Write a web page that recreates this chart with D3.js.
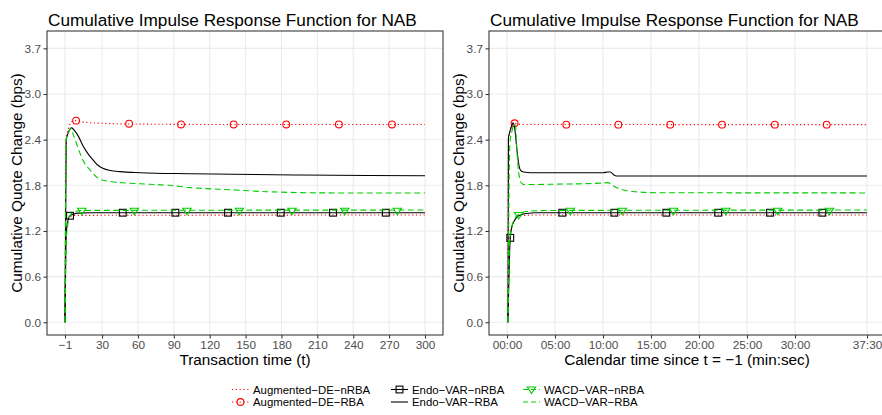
<!DOCTYPE html>
<html lang="en">
<head>
<meta charset="UTF-8">
<title>Cumulative Impulse Response Function for NAB</title>
<script src="https://d3js.org/d3.v7.min.js"></script>
<style>
    body { margin: 0; background: #ffffff; }
    svg { display: block; font-family: 'Liberation Sans', Arial, sans-serif; }
    .grid line { stroke: #ebebeb; stroke-width: 1.07; }
    .tick-label { fill: #4d4d4d; font-size: 11.8px; }
</style>
</head>
<body>
<svg id="chart" width="882" height="415"></svg>
<script>
// ---- data ----
const seriesNames = ["Augmented-DE-nRBA", "Augmented-DE-RBA", "Endo-VAR-nRBA",
                     "Endo-VAR-RBA", "WACD-VAR-nRBA", "WACD-VAR-RBA"];

// left panel: transaction time t
const leftTicks = [-1, 30, 60, 90, 120, 150, 180, 210, 240, 270, 300];
const leftDEnRBA = [[-1,0],[0,1.15],[1,1.3],[2,1.36],[4,1.39],[8,1.405],[300,1.41]];
const leftDERBA = [[-1,0],[0,2.4],[2,2.55],[4,2.63],[8,2.65],[15,2.63],[30,2.615],[60,2.605],[120,2.6],[300,2.6]];
const leftDERBAmarks = [[8.3,2.65],[52.6,2.61],[96,2.6],[140,2.6],[184,2.6],[228,2.6],[272.4,2.6]];
const leftVARnRBA = [[-1,0],[0,1.15],[1,1.3],[2,1.37],[3.2,1.4],[6,1.42],[10,1.435],[20,1.44],[300,1.44]];
const leftVARnRBAmarks = [[3.2,1.4],[47.3,1.44],[91.3,1.44],[135.3,1.44],[179.4,1.44],[223.1,1.44],[267.2,1.44]];
const leftVARRBA = [[-1,0],[0,2.4],[2,2.5],[4.5,2.555],[7,2.52],[10,2.45],[14,2.32],[18,2.22],[22,2.14],[26,2.07],
                    [31,2.02],[37,1.995],[45,1.98],[62,1.966],[104,1.952],[196,1.935],[300,1.926]];
const leftWACDnRBA = [[-1,0],[0,1.05],[1,1.25],[2,1.35],[4,1.42],[8,1.455],[13,1.47],[300,1.475]];
const leftWACDnRBAmarks = [[13,1.465],[57,1.465],[101,1.465],[144.8,1.465],[188.8,1.465],[232.9,1.465],[276.9,1.465]];
const leftWACDRBA = [[-1,0],[0,2.4],[2,2.5],[3.8,2.55],[6,2.46],[9,2.33],[11.6,2.22],[15,2.1],[20,2.0],[27,1.89],
                     [37,1.85],[50,1.83],[62,1.82],[86,1.8],[104,1.77],[140,1.74],[168,1.716],[224,1.7],[300,1.7]];

// right panel: calendar time in minutes since t = -1
const rightTicks = [0, 5, 10, 15, 20, 25, 30, 37.5];
const rightDEnRBA = [[0.1,0],[0.3,1.1],[0.6,1.3],[1,1.37],[1.5,1.4],[3,1.41],[37.5,1.41]];
const rightDERBA = [[0.1,0],[0.15,2.4],[0.5,2.58],[0.79,2.615],[1.5,2.6],[37.5,2.597]];
const rightDERBAmarks = [[0.79,2.615],[6.18,2.597],[11.6,2.597],[17.0,2.597],[22.4,2.597],[27.9,2.597],[33.3,2.597]];
const rightVARnRBA = [[0.1,0],[0.34,1.11],[0.5,1.25],[0.75,1.33],[1.0,1.38],[1.5,1.415],[2,1.43],[3,1.44],[37.5,1.44]];
const rightVARnRBAmarks = [[0.34,1.11],[5.76,1.44],[11.18,1.44],[16.6,1.44],[22.0,1.44],[27.4,1.44],[32.85,1.44]];
const rightVARRBA = [[0.1,0],[0.15,2.42],[0.27,2.49],[0.45,2.57],[0.62,2.62],[0.8,2.55],[1.04,2.26],[1.21,2.09],
                     [1.4,2.0],[1.73,1.975],[2.5,1.966],[10.0,1.966],[10.5,1.975],[10.75,1.975],[11.1,1.94],
                     [11.4,1.923],[37.5,1.923]];
const rightWACDnRBA = [[0.1,0],[0.3,1.1],[0.6,1.3],[1.21,1.42],[2,1.455],[3,1.465],[5,1.47],[37.5,1.475]];
const rightWACDnRBAmarks = [[1.21,1.41],[6.6,1.465],[12.0,1.465],[17.35,1.465],[22.8,1.465],[28.2,1.465],[33.6,1.465]];
const rightWACDRBA = [[0.1,0],[0.3,2.35],[0.5,2.5],[0.7,2.6],[0.86,2.59],[1.07,2.18],[1.2,1.98],[1.31,1.9],[1.5,1.83],
                      [1.8,1.81],[5,1.815],[10.0,1.83],[10.5,1.835],[11.0,1.8],[11.56,1.76],[12.3,1.735],
                      [13.3,1.716],[15.7,1.703],[37.5,1.7]];

const yTickVals = [0, 0.6, 1.2, 1.8, 2.4, 3.0, 3.6];
const yTickLabels = ["0.0", "0.6", "1.2", "1.8", "2.4", "3.0", "3.7"];

// ---- styles ----
const RED = "#ff0000", BLACK = "#000000", GREEN = "#00cd00";
const styles = {
    "Augmented-DE-nRBA": { color: RED, dash: "1.2,2.6", width: 1.1, shape: null },
    "Augmented-DE-RBA":  { color: RED, dash: "1.2,2.6", width: 1.1, shape: "circle" },
    "Endo-VAR-nRBA":     { color: BLACK, dash: null, width: 1.1, shape: "square" },
    "Endo-VAR-RBA":      { color: BLACK, dash: null, width: 1.1, shape: null },
    "WACD-VAR-nRBA":     { color: GREEN, dash: "6,3.5", width: 1.1, shape: "triangle" },
    "WACD-VAR-RBA":      { color: GREEN, dash: "6,3.5", width: 1.1, shape: null }
};

const svg = d3.select("#chart");
const minus = s => s.replace(/-/g, "\u2212");

const fmtMinSec = v => {
    const m = Math.floor(v), s = Math.round((v - m) * 60);
    return String(m).padStart(2, "0") + ":" + String(s).padStart(2, "0");
};

function drawMarker(g, shape, x, y, color) {
    if (shape === "circle") {
        g.append("circle").attr("cx", x).attr("cy", y).attr("r", 3.4)
            .attr("fill", "none").attr("stroke", color).attr("stroke-width", 1.1);
    } else if (shape === "square") {
        g.append("rect").attr("x", x - 3.4).attr("y", y - 3.4).attr("width", 6.8).attr("height", 6.8)
            .attr("fill", "none").attr("stroke", color).attr("stroke-width", 1.1);
    } else if (shape === "triangle") {
        const h = 4.2;
        g.append("path")
            .attr("d", `M${x - h},${y - h * 0.6}L${x + h},${y - h * 0.6}L${x},${y + h * 0.95}Z`)
            .attr("fill", "none").attr("stroke", color).attr("stroke-width", 1.1);
    }
}

function panel(opts) {
    const { x0, x1, y0, y1, xDomain, ticks, tickFmt, xTitle, series, marks } = opts;
    const x = d3.scaleLinear().domain(xDomain).range([x0, x1]);
    const y = d3.scaleLinear().domain([-0.167, 3.828]).range([y1, y0]);

    const clipId = "clip" + Math.round(x0);
    svg.append("clipPath").attr("id", clipId)
        .append("rect").attr("x", x0).attr("y", y0).attr("width", x1 - x0).attr("height", y1 - y0);

    // grid
    const grid = svg.append("g").attr("class", "grid").attr("clip-path", `url(#${clipId})`);
    grid.selectAll(".gx").data(ticks).join("line")
        .attr("x1", d => x(d)).attr("x2", d => x(d)).attr("y1", y0).attr("y2", y1);
    grid.selectAll(".gy").data(yTickVals).join("line")
        .attr("x1", x0).attr("x2", x1).attr("y1", d => y(d)).attr("y2", d => y(d));

    // lines
    const line = d3.line().x(d => x(d[0])).y(d => y(d[1])).curve(d3.curveMonotoneX);
    const plot = svg.append("g").attr("clip-path", `url(#${clipId})`);
    seriesNames.forEach(name => {
        const st = styles[name];
        plot.append("path").datum(series[name])
            .attr("d", line)
            .attr("fill", "none")
            .attr("stroke", st.color)
            .attr("stroke-width", st.width)
            .attr("stroke-dasharray", st.dash)
            .attr("stroke-linejoin", "round");
        if (marks[name]) {
            marks[name].forEach(p => drawMarker(plot, st.shape, x(p[0]), y(p[1]), st.color));
        }
    });

    // border
    svg.append("rect").attr("x", x0).attr("y", y0).attr("width", x1 - x0).attr("height", y1 - y0)
        .attr("fill", "none").attr("stroke", "#333333").attr("stroke-width", 1.07);

    // axes
    const xAxis = d3.axisBottom(x).tickValues(ticks).tickFormat(tickFmt).tickSize(3.5).tickPadding(2.5);
    const gx = svg.append("g").attr("transform", `translate(0,${y1})`).call(xAxis);
    gx.select(".domain").remove();
    gx.selectAll(".tick line").attr("stroke", "#333333").attr("stroke-width", 1.07);
    gx.selectAll(".tick text").attr("class", "tick-label").attr("font-family", null).attr("font-size", null)
        .attr("fill", null);

    const yAxis = d3.axisLeft(y).tickValues(yTickVals).tickFormat((d, i) => yTickLabels[i]).tickSize(3.5).tickPadding(2.5);
    const gy = svg.append("g").attr("transform", `translate(${x0},0)`).call(yAxis);
    gy.select(".domain").remove();
    gy.selectAll(".tick line").attr("stroke", "#333333").attr("stroke-width", 1.07);
    gy.selectAll(".tick text").attr("class", "tick-label").attr("font-family", null).attr("font-size", null)
        .attr("fill", null);

    // titles
    svg.append("text").attr("x", x0 + 1).attr("y", 26)
        .attr("font-size", 17.2).attr("fill", "#000")
        .text("Cumulative Impulse Response Function for NAB");
    svg.append("text").attr("x", (x0 + x1) / 2).attr("y", 365)
        .attr("text-anchor", "middle").attr("font-size", 15.3).attr("fill", "#000")
        .text(xTitle);
    svg.append("text")
        .attr("transform", `translate(${x0 - 25},${(y0 + y1) / 2}) rotate(-90)`)
        .attr("text-anchor", "middle").attr("font-size", 15.3).attr("fill", "#000")
        .text("Cumulative Quote Change (bps)");
}

panel({
    x0: 47, x1: 443, y0: 31, y1: 335,
    xDomain: [-16.05, 315.05],
    ticks: leftTicks,
    tickFmt: d => minus(String(d)),
    xTitle: "Transaction time (t)",
    series: {
        "Augmented-DE-nRBA": leftDEnRBA, "Augmented-DE-RBA": leftDERBA,
        "Endo-VAR-nRBA": leftVARnRBA, "Endo-VAR-RBA": leftVARRBA,
        "WACD-VAR-nRBA": leftWACDnRBA, "WACD-VAR-RBA": leftWACDRBA
    },
    marks: {
        "Augmented-DE-RBA": leftDERBAmarks,
        "Endo-VAR-nRBA": leftVARnRBAmarks,
        "WACD-VAR-nRBA": leftWACDnRBAmarks
    }
});

panel({
    x0: 489, x1: 885, y0: 31, y1: 335,
    xDomain: [-1.875, 39.375],
    ticks: rightTicks,
    tickFmt: fmtMinSec,
    xTitle: "Calendar time since t = \u22121 (min:sec)",
    series: {
        "Augmented-DE-nRBA": rightDEnRBA, "Augmented-DE-RBA": rightDERBA,
        "Endo-VAR-nRBA": rightVARnRBA, "Endo-VAR-RBA": rightVARRBA,
        "WACD-VAR-nRBA": rightWACDnRBA, "WACD-VAR-RBA": rightWACDRBA
    },
    marks: {
        "Augmented-DE-RBA": rightDERBAmarks,
        "Endo-VAR-nRBA": rightVARnRBAmarks,
        "WACD-VAR-nRBA": rightWACDnRBAmarks
    }
});

// ---- legend: 3 columns x 2 rows ----
const legendCols = [232, 391, 523];
const legendRows = [389.5, 402];
const legend = svg.append("g");
seriesNames.forEach((name, i) => {
    const st = styles[name];
    const cx = legendCols[Math.floor(i / 2)];
    const cy = legendRows[i % 2];
    legend.append("line")
        .attr("x1", cx).attr("x2", cx + 17).attr("y1", cy).attr("y2", cy)
        .attr("stroke", st.color).attr("stroke-width", st.width)
        .attr("stroke-dasharray", st.dash ? (st.color === GREEN ? "5,3" : st.dash) : null);
    if (st.shape) drawMarker(legend, st.shape, cx + 8.5, cy, st.color);
    legend.append("text")
        .attr("x", cx + 21).attr("y", cy + 4)
        .attr("font-size", 11.4).attr("fill", "#000")
        .text(minus(name));
});
</script>
</body>
</html>
